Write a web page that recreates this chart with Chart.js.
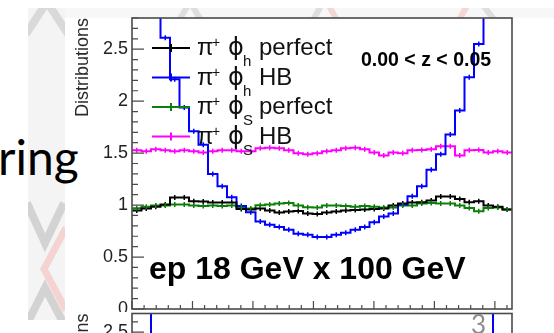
<!DOCTYPE html>
<html><head><meta charset="utf-8">
<script src="https://cdn.jsdelivr.net/npm/chart.js@4.4.1/dist/chart.umd.min.js"></script>
<style>
html,body{margin:0;padding:0;width:554px;height:333px;overflow:hidden;background:#fff;position:relative}
canvas,svg{position:absolute}
</style></head>
<body>
<svg id="back" width="554" height="333" style="left:0;top:0">
  <defs>
    <clipPath id="cs"><rect x="28" y="8" width="37" height="312"/></clipPath>
    <clipPath id="cb"><rect x="65" y="8" width="489" height="10"/></clipPath>
  </defs>
  <rect x="28" y="8" width="37" height="312" fill="#f4f4f4"/>
  <rect x="65" y="8" width="489" height="10" fill="#f7f7f7"/>
  <g clip-path="url(#cs)" fill="none" stroke-width="8">
    <polyline points="26,34 47,2 68,34" stroke="#d9d9d9"/>
    <polyline points="27,203 45,243 64,203" stroke="#d3d3d3"/>
    <polyline points="66,228 44,269 66,310" stroke="#f5d3d3" stroke-width="7"/>
    <polyline points="27,324 45,288 64,324" stroke="#d3d3d3"/>
  </g>
  <g clip-path="url(#cb)" fill="none" stroke-width="6">
    <polyline points="178,22 190,2 202,22" stroke="#dedede"/>
    <polyline points="312,22 322,4" stroke="#dedede"/>
    <polyline points="328,4 338,22" stroke="#f5d6d6"/>
    <polyline points="458,22 468,4" stroke="#f5d6d6"/>
    <polyline points="482,4 496,22" stroke="#dedede"/>
  </g>
  <text x="-2" y="175" font-family="Lato" font-size="48" fill="#000">ring</text>
</svg>
<script>
// ---------------- data ----------------
const TWO_PI = 2 * Math.PI;
const NBINS = 40;

// main panel: 0.00 < z < 0.05
const phiH_perfect = [0.947, 0.966, 0.985, 1.005, 1.072, 1.072, 1.037, 1.034, 1.024, 1.024,
  1.024, 0.961, 0.957, 0.966, 0.947, 0.928, 0.937, 0.942, 0.918, 0.913,
  0.928, 0.937, 0.947, 0.952, 0.957, 0.961, 0.966, 0.995, 1.014, 1.024,
  1.027, 1.043, 1.082, 1.082, 1.058, 1.027, 1.037, 0.995, 0.985, 0.957];
const phiH_HB = [3.6, 3.3, 2.95, 2.61, 2.21, 1.94, 1.71, 1.58, 1.30, 1.18,
  1.075, 0.99, 0.93, 0.843, 0.81, 0.79, 0.763, 0.725, 0.715, 0.693,
  0.693, 0.715, 0.734, 0.763, 0.79, 0.834, 0.89, 0.92, 1.005, 1.085,
  1.18, 1.34, 1.49, 1.68, 1.91, 2.23, 2.55, 2.95, 3.3, 3.6];
const phiS_perfect = [0.97, 0.985, 0.995, 0.995, 1.005, 1.005, 0.995, 0.99, 0.995, 0.99,
  0.995, 0.976, 0.966, 0.998, 1.005, 1.014, 1.021, 0.995, 0.98, 0.976,
  0.995, 0.995, 0.99, 0.985, 0.99, 0.985, 0.976, 0.976, 0.995, 0.995,
  1.014, 1.021, 1.014, 1.014, 0.995, 0.973, 0.94, 0.973, 0.976, 0.957];
const phiS_HB = [1.527, 1.517, 1.536, 1.527, 1.517, 1.527, 1.517, 1.507, 1.517, 1.527,
  1.527, 1.517, 1.517, 1.546, 1.551, 1.546, 1.527, 1.498, 1.488, 1.498,
  1.517, 1.527, 1.546, 1.551, 1.536, 1.507, 1.478, 1.507, 1.498, 1.527,
  1.531, 1.536, 1.565, 1.565, 1.478, 1.527, 1.530, 1.507, 1.517, 1.507];

// neighbouring panel on the right (only its first bins are visible)
const next_phiH_perfect = [0.94, 0.97, 0.95, 0.96, 0.96];
const next_phiH_HB = [3.2, 2.72, 2.08, 1.62, 1.38];
const next_phiS_perfect = [0.95, 0.97, 0.97, 0.96, 0.97];
const next_phiS_HB = [0.99, 1.01, 1.0, 0.99, 1.0];

// panel below (only its top edge is visible)
const lower_phiH_HB = [3.6, 3.0, 2.3, 2.0, 1.8, 1.6, 1.45, 1.3, 1.2, 1.1,
  1.0, 0.95, 0.9, 0.85, 0.8, 0.78, 0.76, 0.74, 0.73, 0.72,
  0.72, 0.73, 0.74, 0.76, 0.78, 0.8, 0.85, 0.9, 0.95, 1.0,
  1.1, 1.2, 1.3, 1.45, 1.6, 1.8, 2.0, 2.3, 3.0, 3.6];

const legendSubs = ['h', 'h', 'S', 'S'];
const legendTails = ['perfect', 'HB', 'perfect', 'HB'];
const zLabel = '0.00 < z < 0.05';
const beamLabel = 'ep 18 GeV x 100 GeV';
const yTitle = 'Distributions';
const yMaxTop = 2.8;
const yMaxLower = 2.68;

// ---------------- helpers ----------------
const COLORS = ['#000000', '#0000ff', '#0a800a', '#ff00ff'];
const FONT = '"Liberation Sans", Arial, sans-serif';

function histPoints(values) {
  const w = TWO_PI / NBINS, pts = [];
  values.forEach((v, k) => { pts.push({x: k * w, y: v}); pts.push({x: (k + 1) * w, y: v}); });
  return pts;
}
function ds(values, color) {
  return {data: histPoints(values), binValues: values, borderColor: color, borderWidth: 2,
    pointRadius: 0, fill: false, tension: 0, borderJoinStyle: 'miter', borderCapStyle: 'butt'};
}
function makeCanvas(left, top, w, h) {
  const c = document.createElement('canvas');
  c.width = w; c.height = h;
  c.style.left = left + 'px'; c.style.top = top + 'px';
  c.style.width = w + 'px'; c.style.height = h + 'px';
  document.body.appendChild(c);
  return c;
}
function drawErrTicks(chart) {
  const {ctx, chartArea: a, scales: {x, y}} = chart;
  const w = TWO_PI / NBINS;
  ctx.save();
  ctx.beginPath(); ctx.rect(a.left, a.top, a.right - a.left, a.bottom - a.top); ctx.clip();
  chart.data.datasets.forEach(d => {
    ctx.strokeStyle = d.borderColor; ctx.lineWidth = 1.5;
    d.binValues.forEach((v, k) => {
      const px = x.getPixelForValue((k + 0.5) * w), py = y.getPixelForValue(v);
      ctx.beginPath(); ctx.moveTo(px, py - 2.5); ctx.lineTo(px, py + 2.5); ctx.stroke();
    });
  });
  ctx.restore();
}
function drawFrame(chart, yMax) {
  const {ctx, chartArea: a, scales: {x, y}} = chart;
  ctx.save();
  ctx.strokeStyle = '#4a4a4a';
  ctx.lineWidth = 1.2;
  ctx.beginPath();
  for (let i = 0; i * 0.1 <= yMax + 1e-9; i++) {
    const py = y.getPixelForValue(i * 0.1);
    const len = i % 5 === 0 ? 12 : 6;
    ctx.moveTo(a.left, py); ctx.lineTo(a.left + len, py);
  }
  for (let i = 0; i * 0.2 <= TWO_PI + 1e-9; i++) {
    const px = x.getPixelForValue(i * 0.2);
    const len = i % 5 === 0 ? 8 : 4;
    ctx.moveTo(px, a.bottom); ctx.lineTo(px, a.bottom - len);
  }
  ctx.stroke();
  ctx.lineWidth = 1.6;
  ctx.strokeRect(a.left, a.top, a.right - a.left, a.bottom - a.top);
  ctx.restore();
}
function drawYTitle(ctx, x, top) {
  ctx.save();
  ctx.translate(x, top); ctx.rotate(-Math.PI / 2);
  ctx.font = '18px ' + FONT; ctx.fillStyle = '#2a2a2a';
  ctx.textAlign = 'right'; ctx.textBaseline = 'alphabetic';
  ctx.fillText(yTitle, 0, 0);
  ctx.restore();
}
function baseOptions(pad, yMax, showY) {
  return {
    responsive: false, animation: false, devicePixelRatio: 1,
    layout: {padding: pad},
    plugins: {legend: {display: false}, tooltip: {enabled: false}},
    scales: {
      x: {type: 'linear', min: 0, max: TWO_PI, display: false},
      y: {type: 'linear', min: 0, max: yMax, display: showY,
        grid: {display: false, drawTicks: false}, border: {display: false},
        ticks: {stepSize: 0.5, includeBounds: false, padding: 4, color: '#222',
          font: {family: 'Liberation Sans', size: 18},
          callback: (v) => String(Math.round(v * 10) / 10)},
        afterFit(s) { s.width = 132; s.paddingTop = 0; s.paddingBottom = 0; }}
    }
  };
}

// ---------------- main panel ----------------
const mainPlugin = {
  id: 'mainRoot',
  beforeDraw(chart) {
    const {ctx, chartArea: a} = chart;
    ctx.save(); ctx.fillStyle = '#fff'; ctx.fillRect(a.left, a.top, a.right - a.left, a.bottom - a.top); ctx.restore();
  },
  afterDatasetsDraw(chart) { drawErrTicks(chart); drawFrame(chart, yMaxTop); },
  afterDraw(chart) {
    const ctx = chart.ctx;
    drawYTitle(ctx, 88, 18);
    ctx.save();
    ctx.fillStyle = '#000';
    ctx.textBaseline = 'alphabetic'; ctx.textAlign = 'left';
    ctx.font = 'bold 19.5px ' + FONT; ctx.fillText(zLabel, 361, 66);
    ctx.font = 'bold 32px ' + FONT; ctx.fillText(beamLabel, 149, 279);
    // legend
    for (let r = 0; r < 4; r++) {
      const ly = 48 + r * 29.5;
      ctx.strokeStyle = COLORS[r]; ctx.lineWidth = 2;
      ctx.beginPath(); ctx.moveTo(152, ly); ctx.lineTo(190, ly);
      ctx.moveTo(171, ly - 4); ctx.lineTo(171, ly + 4); ctx.stroke();
      const b = ly + 7;
      ctx.fillStyle = '#111';
      ctx.font = '24px ' + FONT; ctx.fillText('\u03C0', 197, b);
      ctx.font = '14px ' + FONT; ctx.fillText('+', 212, b - 8);
      ctx.font = '24px "DejaVu Sans", ' + FONT; ctx.fillText('\u03D5', 228, b);
      ctx.font = '15px ' + FONT; ctx.fillText(legendSubs[r], 243, b + 11);
      ctx.font = '24px ' + FONT; ctx.fillText(legendTails[r], 259, b);
    }
    ctx.restore();
  }
};
new Chart(makeCanvas(0, 0, 554, 333), {
  type: 'line',
  data: {datasets: [ds(phiH_perfect, COLORS[0]), ds(phiH_HB, COLORS[1]), ds(phiS_perfect, COLORS[2]), ds(phiS_HB, COLORS[3])]},
  options: baseOptions({top: 18, right: 42, bottom: 24, left: 0}, yMaxTop, true),
  plugins: [mainPlugin]
});

// ---------------- right neighbour panel ----------------
const sidePlugin = {
  id: 'sideRoot',
  beforeDraw(chart) {
    const {ctx, chartArea: a} = chart;
    ctx.save(); ctx.fillStyle = '#fff'; ctx.fillRect(a.left, a.top, a.right - a.left, a.bottom - a.top); ctx.restore();
  },
  afterDatasetsDraw(chart) { drawErrTicks(chart); drawFrame(chart, yMaxTop); }
};
new Chart(makeCanvas(515, 0, 380, 333), {
  type: 'line',
  data: {datasets: [ds(next_phiH_perfect, COLORS[0]), ds(next_phiH_HB, COLORS[1]), ds(next_phiS_perfect, COLORS[2]), ds(next_phiS_HB, COLORS[3])]},
  options: baseOptions({top: 18, right: 0, bottom: 24, left: 0}, yMaxTop, false),
  plugins: [sidePlugin]
});

// ---------------- lower panels ----------------
const lowerPlugin = {
  id: 'lowerRoot',
  beforeDraw(chart) {
    const {ctx} = chart;
    ctx.save(); ctx.fillStyle = '#fff';
    ctx.fillRect(65, 0, 489, chart.height);
    ctx.restore();
  },
  afterDatasetsDraw(chart) { drawFrame(chart, yMaxLower); },
  afterDraw(chart) { drawYTitle(chart.ctx, 88, 1.5); }
};
new Chart(makeCanvas(0, 312, 554, 300), {
  type: 'line',
  data: {datasets: [ds(lower_phiH_HB, COLORS[1])]},
  options: baseOptions({top: 1.5, right: 42, bottom: 21, left: 0}, yMaxLower, true),
  plugins: [lowerPlugin]
});
const lowerSidePlugin = {
  id: 'lowerSideRoot',
  beforeDraw(chart) {
    const {ctx, chartArea: a} = chart;
    ctx.save(); ctx.fillStyle = '#fff'; ctx.fillRect(a.left, a.top, a.right - a.left, a.bottom - a.top); ctx.restore();
  },
  afterDatasetsDraw(chart) { drawFrame(chart, yMaxLower); }
};
new Chart(makeCanvas(515, 312, 380, 300), {
  type: 'line',
  data: {datasets: []},
  options: baseOptions({top: 1.5, right: 0, bottom: 21, left: 0}, yMaxLower, false),
  plugins: [lowerSidePlugin]
});
</script>
<svg id="front" width="554" height="333" style="left:0;top:0;pointer-events:none">
  <text x="471" y="334" font-family="Lato" font-size="26" fill="#8c8c8c">3</text>
</svg>
</body></html>
